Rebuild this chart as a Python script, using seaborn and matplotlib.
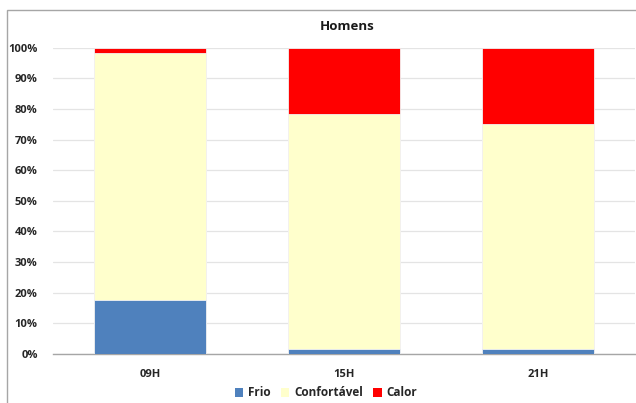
import matplotlib
matplotlib.use("Agg")
import matplotlib.pyplot as plt
from matplotlib.patches import Rectangle, Patch
from matplotlib.ticker import PercentFormatter
import seaborn as sns
import pandas as pd
import numpy as np

# Thermal sensation of men by time of day (share of answers, %)
horarios = ["09H", "15H", "21H"]
frio = [17.7, 1.6, 1.6]
confortavel = [80.7, 76.7, 73.4]
calor = [1.6, 21.7, 25.0]

categorias = ["Frio", "Confortável", "Calor"]
cores = ["#4F81BD", "#FFFFCC", "#FF0000"]

sns.set_theme(style="white")
plt.rcParams["font.family"] = ["Open Sans", "DejaVu Sans"]

df = pd.DataFrame({"horario": horarios, "Frio": frio,
                   "Confortável": confortavel, "Calor": calor})
# cumulative tops so the segments stack when drawn back-to-front
df["top_Frio"] = df["Frio"] / 100
df["top_Confortável"] = (df["Frio"] + df["Confortável"]) / 100
df["top_Calor"] = (df["Frio"] + df["Confortável"] + df["Calor"]) / 100

fig = plt.figure(figsize=(6.36, 4.03), dpi=100)
ax = fig.add_axes([53 / 636, 49 / 403, 582 / 636, 306.3 / 403])

for cat, cor in reversed(list(zip(categorias, cores))):
    sns.barplot(data=df, x="horario", y="top_" + cat, color=cor,
                width=0.58, saturation=1, edgecolor="#F2F2F2",
                linewidth=0.6, ax=ax, zorder=3)

ax.set_xlim(-0.5, 2.5)
ax.set_ylim(0, 1)
ax.set_yticks(np.arange(0, 1.01, 0.1))
ax.yaxis.set_major_formatter(PercentFormatter(1.0, decimals=0))
ax.grid(axis="y", color="#E4E4E4", linewidth=0.9, zorder=0)
ax.set_axisbelow(True)
for s in ["left", "right", "top"]:
    ax.spines[s].set_visible(False)
ax.spines["bottom"].set_color("#A6A6A6")
ax.spines["bottom"].set_linewidth(1.0)
ax.set_xlabel("")
ax.set_ylabel("")
ax.tick_params(axis="both", length=0, labelsize=8, labelcolor="#262626")
ax.tick_params(axis="y", pad=11)
ax.tick_params(axis="x", pad=11)
for lbl in ax.get_xticklabels() + ax.get_yticklabels():
    lbl.set_fontweight("bold")

fig.text(347 / 636, 1 - 27 / 403, "Homens", ha="center", va="center",
         fontsize=9.5, fontweight="bold", color="#1A1A1A")

handles = [Patch(facecolor=c, edgecolor="none", label=l)
           for l, c in zip(categorias, cores)]
fig.legend(handles=handles, loc="center", bbox_to_anchor=(326 / 636, 1 - 393 / 403),
           ncol=3, frameon=False, handlelength=0.7, handleheight=0.7,
           handletextpad=0.4, columnspacing=0.9,
           prop={"weight": "bold", "size": 8.5})

# outer chart frame
fig.patches.append(Rectangle((7 / 636, -0.05), 1.1, 1 - 10 / 403 + 0.05,
                             transform=fig.transFigure, fill=False,
                             edgecolor="#A6A6A6", linewidth=1.0))

fig.savefig("out.png", dpi=100)
